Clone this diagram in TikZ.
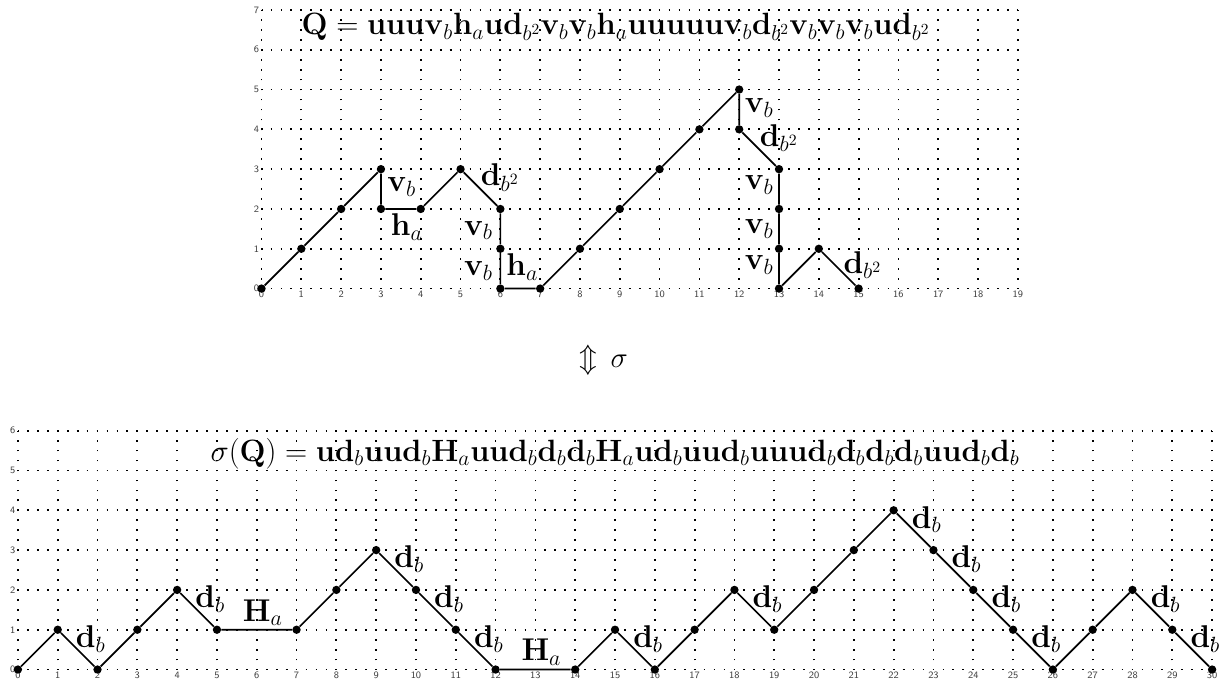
\RequirePackage{fix-cm}
\documentclass[tikz,border=0pt]{standalone}
\usepackage{amsmath}
\usepackage{amssymb}
\usepackage{tikz}
\usetikzlibrary{positioning}

\begin{document}
\begin{tikzpicture}[
        dot/.style={circle, fill=black, inner sep=0pt, minimum size=2.1mm},
        walk/.style={line width=1.2pt},
        grd/.style={line width=0.045cm, dash pattern=on 0.045cm off 0.205cm, dash phase=0.0225cm},
        tick/.style={font=\fontsize{7}{8}\selectfont\sffamily, text=black!75, inner sep=1pt},
        lbl/.style={font=\fontsize{22.5}{27}\selectfont, inner sep=0pt, midway},
        dlbl/.style={lbl, shift={(0.33,0.27)}},
        hlbl/.style={lbl, shift={(0.15,0.43)}},
        ttl/.style={font=\fontsize{22}{26}\selectfont, inner sep=0pt}
    ]
        \useasboundingbox (-0.45,-0.42) rectangle (30.5,16.82);

        % --- sigma(Q): lower grid ---
        \foreach \x in {0,...,30} {
            \draw[grd] (\x,0) -- (\x,6);
            \node[tick, below] (bx\x) at (\x,-0.02) {\x};
        }
        \foreach \y in {0,...,6} {
            \draw[grd] (0,\y) -- (30,\y);
            \node[tick, left] (by\y) at (-0.02,\y) {\y};
        }
        \foreach \x/\y [count=\i from 0] in {0/0,1/1,2/0,3/1,4/2,5/1,7/1,8/2,9/3,10/2,11/1,12/0,14/0,15/1,16/0,17/1,18/2,19/1,20/2,21/3,22/4,23/3,24/2,25/1,26/0,27/1,28/2,29/1,30/0}
            \node[dot] (b\i) at (\x,\y) {};

        \draw[walk] (b0) -- (b1) -- node[dlbl] (bl1) {$\mathbf{d}_b$} (b2) -- (b3) -- (b4)
            -- node[dlbl] (bl2) {$\mathbf{d}_b$} (b5) -- node[hlbl] (bl3) {$\mathbf{H}_a$} (b6)
            -- (b7) -- (b8) -- node[dlbl] (bl4) {$\mathbf{d}_b$} (b9)
            -- node[dlbl] (bl5) {$\mathbf{d}_b$} (b10) -- node[dlbl] (bl6) {$\mathbf{d}_b$} (b11)
            -- node[hlbl] (bl7) {$\mathbf{H}_a$} (b12) -- (b13) -- node[dlbl] (bl8) {$\mathbf{d}_b$} (b14)
            -- (b15) -- (b16) -- node[dlbl] (bl9) {$\mathbf{d}_b$} (b17) -- (b18) -- (b19) -- (b20)
            -- node[dlbl] (bl10) {$\mathbf{d}_b$} (b21) -- node[dlbl] (bl11) {$\mathbf{d}_b$} (b22)
            -- node[dlbl] (bl12) {$\mathbf{d}_b$} (b23) -- node[dlbl] (bl13) {$\mathbf{d}_b$} (b24)
            -- (b25) -- (b26) -- node[dlbl] (bl14) {$\mathbf{d}_b$} (b27)
            -- node[dlbl] (bl15) {$\mathbf{d}_b$} (b28);

        \node[ttl] (sword) at (15.0,5.43) {$\sigma(\mathbf{Q})=\mathbf{ud}_b\mathbf{uud}_b\mathbf{H}_a\mathbf{uud}_b\mathbf{d}_b\mathbf{d}_b\mathbf{H}_a\mathbf{ud}_b\mathbf{uud}_b\mathbf{uuud}_b\mathbf{d}_b\mathbf{d}_b\mathbf{d}_b\mathbf{uud}_b\mathbf{d}_b$};

        % --- bijection ---
        \node[font=\huge] (sig) at (14.72,7.77) {$\Updownarrow\,\sigma$};

        % --- Q: upper grid ---
        \begin{scope}[shift={(6.12,9.57)}]
            \foreach \x in {0,...,19} {
                \draw[grd] (\x,0) -- (\x,7);
                \node[tick, below] (tx\x) at (\x,-0.02) {\x};
            }
            \foreach \y in {0,...,7} {
                \draw[grd] (0,\y) -- (19,\y);
                \node[tick, left] (ty\y) at (-0.02,\y) {\y};
            }
            \foreach \x/\y [count=\i from 0] in {0/0,1/1,2/2,3/3,3/2,4/2,5/3,6/2,6/1,6/0,7/0,8/1,9/2,10/3,11/4,12/5,12/4,13/3,13/2,13/1,13/0,14/1,15/0}
                \node[dot] (t\i) at (\x,\y) {};

            \draw[walk] (t0) -- (t1) -- (t2) -- (t3)
                -- node[lbl, shift={(0.52,0.05)}] (tl1) {$\mathbf{v}_b$} (t4)
                -- node[lbl, shift={(0.15,-0.45)}] (tl2) {$\mathbf{h}_a$} (t5) -- (t6)
                -- node[lbl, shift={(0.49,0.29)}] (tl3) {$\mathbf{d}_{b^2}$} (t7)
                -- node[lbl, shift={(-0.55,-0.04)}] (tl4) {$\mathbf{v}_b$} (t8)
                -- node[lbl, shift={(-0.55,-0.05)}] (tl5) {$\mathbf{v}_b$} (t9)
                -- node[lbl, shift={(0.05,0.54)}] (tl6) {$\mathbf{h}_a$} (t10)
                -- (t11) -- (t12) -- (t13) -- (t14) -- (t15)
                -- node[lbl, shift={(0.5,0.03)}] (tl7) {$\mathbf{v}_b$} (t16)
                -- node[lbl, shift={(0.5,0.28)}] (tl8) {$\mathbf{d}_{b^2}$} (t17)
                -- node[lbl, shift={(-0.5,0.1)}] (tl9) {$\mathbf{v}_b$} (t18)
                -- node[lbl, shift={(-0.5,0)}] (tl10) {$\mathbf{v}_b$} (t19)
                -- node[lbl, shift={(-0.5,0.09)}] (tl11) {$\mathbf{v}_b$} (t20)
                -- (t21) -- node[lbl, shift={(0.6,0.09)}] (tl12) {$\mathbf{d}_{b^2}$} (t22);

            \node[ttl] (qword) at (8.9,6.57) {$\mathbf{Q}=\mathbf{uuuv}_b\mathbf{h}_a\mathbf{ud}_{b^2}\mathbf{v}_b\mathbf{v}_b\mathbf{h}_a\mathbf{uuuuuv}_b\mathbf{d}_{b^2}\mathbf{v}_b\mathbf{v}_b\mathbf{v}_b\mathbf{ud}_{b^2}$};
        \end{scope}
    \end{tikzpicture}
\end{document}
